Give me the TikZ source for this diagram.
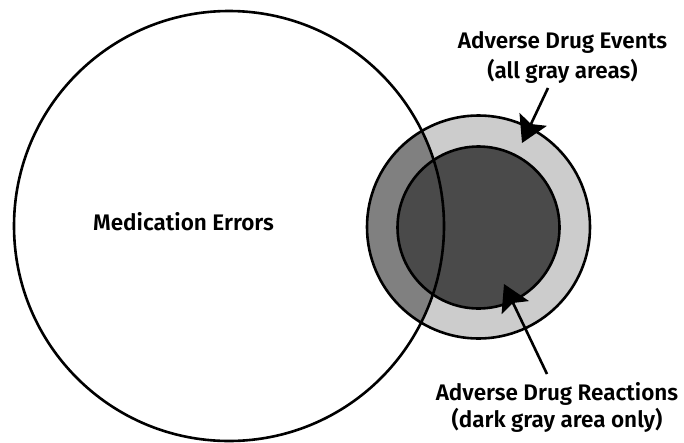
\documentclass[tikz,border=0pt]{standalone}
\usepackage{fontspec}
\setmainfont{Fira Sans}[BoldFont={Fira Sans SemiBold}]
\usetikzlibrary{arrows.meta}
\definecolor{lightg}{HTML}{CCCCCC}
\definecolor{midg}{HTML}{808080}
\definecolor{darkg}{HTML}{4A4A4A}
\begin{document}
\begin{tikzpicture}[x=1pt,y=-1pt,
  ring/.style={circle,draw=black,line width=2.6pt,inner sep=0pt},
  lbl/.style={font=\fontsize{22.5}{30}\selectfont\bfseries,align=center,inner sep=0pt},
  pointer/.style={line width=2.6pt,-{Stealth[length=26pt,width=30pt,inset=5pt]}}]
\useasboundingbox[fill=white] (0,0) rectangle (684,442);
% fills
\fill[lightg] (478.5,227) circle (111.5);
\begin{scope}
  \clip (229,226) circle (215);
  \fill[midg] (478.5,227) circle (111.5);
\end{scope}
\fill[darkg] (478.5,227.5) circle (81);
% outlines
\node[ring,minimum size=430pt] (me) at (229,226) {};
\node[ring,minimum size=223pt] (ade) at (478.5,227) {};
\node[ring,minimum size=162pt] (adr) at (478.5,227.5) {};
% labels
\node[lbl] (meText) at (183.5,222) {Medication Errors};
\node[lbl] (adeText) at (562.5,57) {Adverse Drug Events\\(all gray areas)};
\node[lbl,font=\fontsize{22.5}{27}\selectfont\bfseries] (adrText) at (557,407) {Adverse Drug Reactions\\(dark gray area only)};
% arrows
\coordinate (adeTip) at (522,143);
\coordinate (adrTip) at (504,284);
\coordinate (adeStart) at (548,88);
\coordinate (adrStart) at (547,374);
\draw[pointer] (adeStart) -- (adeTip);
\draw[pointer] (adrStart) -- (adrTip);
\end{tikzpicture}
\end{document}
